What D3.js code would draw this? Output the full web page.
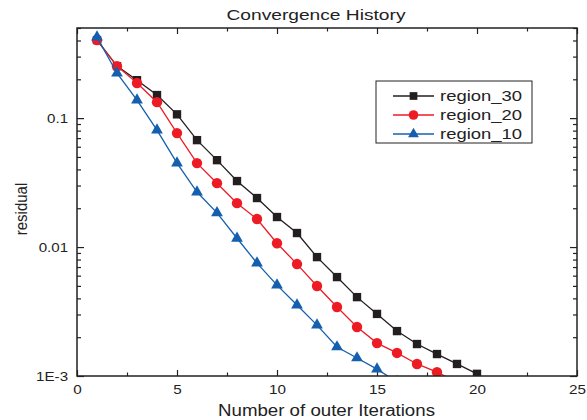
<!DOCTYPE html>
<html>
<head>
<meta charset="utf-8">
<script src="https://d3js.org/d3.v7.min.js"></script>
<style>
body { margin: 0; background: #fff; }
text { font-family: "Liberation Sans", Arial, sans-serif; fill: #222; }
</style>
</head>
<body>
<script>
// data
var iterations = [1, 2, 3, 4, 5, 6, 7, 8, 9, 10, 11, 12, 13, 14, 15, 16, 17, 18, 19, 20];
var region30 = [0.403, 0.253, 0.197, 0.151, 0.107, 0.0675, 0.0472, 0.0325, 0.0240, 0.0171,
                0.01285, 0.00836, 0.00585, 0.00409, 0.00303, 0.00223, 0.00177, 0.00148, 0.00124, 0.00104];
var region20 = [0.403, 0.253, 0.187, 0.133, 0.0765, 0.0448, 0.0313, 0.0219, 0.0165, 0.0107,
                0.00738, 0.00499, 0.00343, 0.00240, 0.00180, 0.00151, 0.00124, 0.00107, 0.00090];
var region10 = [0.425, 0.223, 0.138, 0.0807, 0.0448, 0.0267, 0.0184, 0.0117, 0.00751, 0.00507,
                0.00355, 0.00248, 0.00168, 0.00138, 0.00113, 0.00090];

var seriesNames = ["region_30", "region_20", "region_10"];
var seriesValues = [region30, region20, region10];
var seriesColors = ["#231f20", "#ed1c24", "#1560ae"];
var seriesShapes = [d3.symbolSquare, d3.symbolCircle, d3.symbolTriangle];
var seriesSizes = [70, 85, 60];

var xTicks = [0, 5, 10, 15, 20, 25];
var xMinorTicks = [2.5, 7.5, 12.5, 17.5, 22.5];
var yTicks = [0.1, 0.01, 0.001];
var yTickLabels = ["0.1", "0.01", "1E-3"];

var w = 587, h = 420;
var pLeft = 77, pRight = 577, pTop = 28, pBottom = 376;

var x = d3.scaleLinear().domain([0, 25]).range([pLeft, pRight]);
var y = d3.scaleLog().domain([0.001, 0.5]).range([pBottom, pTop]);

var svg = d3.select("body").append("svg").attr("width", w).attr("height", h);

svg.append("defs").append("clipPath").attr("id", "plotclip")
  .append("rect").attr("x", pLeft).attr("y", pTop)
  .attr("width", pRight - pLeft).attr("height", pBottom - pTop);

// minor y ticks from the log scale itself
var yMinor = y.ticks().filter(function (v) {
  return Math.abs(Math.log10(v) - Math.round(Math.log10(v))) > 1e-6;
});

function styleAxis(g) {
  g.select(".domain").remove();
  g.selectAll("line").attr("stroke", "#222").attr("stroke-width", 1.2);
}

// bottom
svg.append("g").attr("transform", "translate(0," + pBottom + ")")
  .call(d3.axisBottom(x).tickValues(xTicks).tickSize(-6).tickFormat(d3.format("d")))
  .call(styleAxis)
  .call(function (g) {
    g.selectAll("text").attr("y", 18).attr("dy", 0)
      .attr("font-size", 13.5).attr("transform", "scale(1.13,1)")
      .style("font-family", "Liberation Sans, Arial, sans-serif").attr("fill", "#222");
  });
svg.append("g").attr("transform", "translate(0," + pBottom + ")")
  .call(d3.axisBottom(x).tickValues(xMinorTicks).tickSize(-3.5).tickFormat(""))
  .call(styleAxis);

// top
svg.append("g").attr("transform", "translate(0," + pTop + ")")
  .call(d3.axisTop(x).tickValues(xTicks).tickSize(-6).tickFormat(""))
  .call(styleAxis);
svg.append("g").attr("transform", "translate(0," + pTop + ")")
  .call(d3.axisTop(x).tickValues(xMinorTicks).tickSize(-3.5).tickFormat(""))
  .call(styleAxis);

// left
svg.append("g").attr("transform", "translate(" + pLeft + ",0)")
  .call(d3.axisLeft(y).tickValues(yTicks).tickSize(-7)
    .tickFormat(function (d, i) { return yTickLabels[i]; }))
  .call(styleAxis)
  .call(function (g) {
    g.selectAll("text").attr("x", -8).attr("dy", "0.35em")
      .attr("font-size", 13.5).attr("transform", "scale(1.12,1)")
      .style("font-family", "Liberation Sans, Arial, sans-serif").attr("fill", "#222");
  });
svg.append("g").attr("transform", "translate(" + pLeft + ",0)")
  .call(d3.axisLeft(y).tickValues(yMinor).tickSize(-4).tickFormat(""))
  .call(styleAxis);

// right
svg.append("g").attr("transform", "translate(" + pRight + ",0)")
  .call(d3.axisRight(y).tickValues(yTicks).tickSize(-7).tickFormat(""))
  .call(styleAxis);
svg.append("g").attr("transform", "translate(" + pRight + ",0)")
  .call(d3.axisRight(y).tickValues(yMinor).tickSize(-4).tickFormat(""))
  .call(styleAxis);

// series
var plot = svg.append("g").attr("clip-path", "url(#plotclip)");
var line = d3.line()
  .x(function (d) { return x(d.it); })
  .y(function (d) { return y(d.v); });

seriesValues.forEach(function (vals, s) {
  var pts = vals.map(function (v, i) { return { it: iterations[i], v: v }; });
  plot.append("path").datum(pts)
    .attr("fill", "none").attr("stroke", seriesColors[s]).attr("stroke-width", 1.3)
    .attr("d", line);
  plot.selectAll(".m" + s).data(pts).enter().append("path")
    .attr("class", "m" + s)
    .attr("transform", function (d) { return "translate(" + x(d.it) + "," + y(d.v) + ")"; })
    .attr("d", d3.symbol().type(seriesShapes[s]).size(seriesSizes[s]))
    .attr("fill", seriesColors[s]);
});

// frame
svg.append("rect").attr("x", pLeft).attr("y", pTop)
  .attr("width", pRight - pLeft).attr("height", pBottom - pTop)
  .attr("fill", "none").attr("stroke", "#222").attr("stroke-width", 1.5);

// legend
var lg = svg.append("g");
lg.append("rect").attr("x", 376).attr("y", 81).attr("width", 156).attr("height", 62)
  .attr("fill", "#fff").attr("stroke", "#222").attr("stroke-width", 1);
seriesNames.forEach(function (name, s) {
  var ry = 96 + s * 19;
  lg.append("line").attr("x1", 393).attr("x2", 434).attr("y1", ry).attr("y2", ry)
    .attr("stroke", seriesColors[s]).attr("stroke-width", 1.3);
  lg.append("path").attr("transform", "translate(413.5," + ry + ")")
    .attr("d", d3.symbol().type(seriesShapes[s]).size(seriesSizes[s] * 0.85))
    .attr("fill", seriesColors[s]);
  lg.append("text").attr("x", 440).attr("y", ry).attr("dy", "0.35em")
    .attr("font-size", 15.5).attr("textLength", 82).attr("lengthAdjust", "spacingAndGlyphs")
    .text(name);
});

// titles
svg.append("text").attr("x", 316).attr("y", 20).attr("text-anchor", "middle")
  .attr("font-size", 15).attr("textLength", 179).attr("lengthAdjust", "spacingAndGlyphs")
  .text("Convergence  History");

svg.append("text").attr("x", 326.5).attr("y", 416).attr("text-anchor", "middle")
  .attr("font-size", 16).attr("textLength", 217).attr("lengthAdjust", "spacingAndGlyphs")
  .text("Number of outer Iterations");

svg.append("text").attr("transform", "translate(27,209) rotate(-90) scale(1,1.15)")
  .attr("text-anchor", "middle").attr("font-size", 15)
  .text("residual");
</script>
</body>
</html>
